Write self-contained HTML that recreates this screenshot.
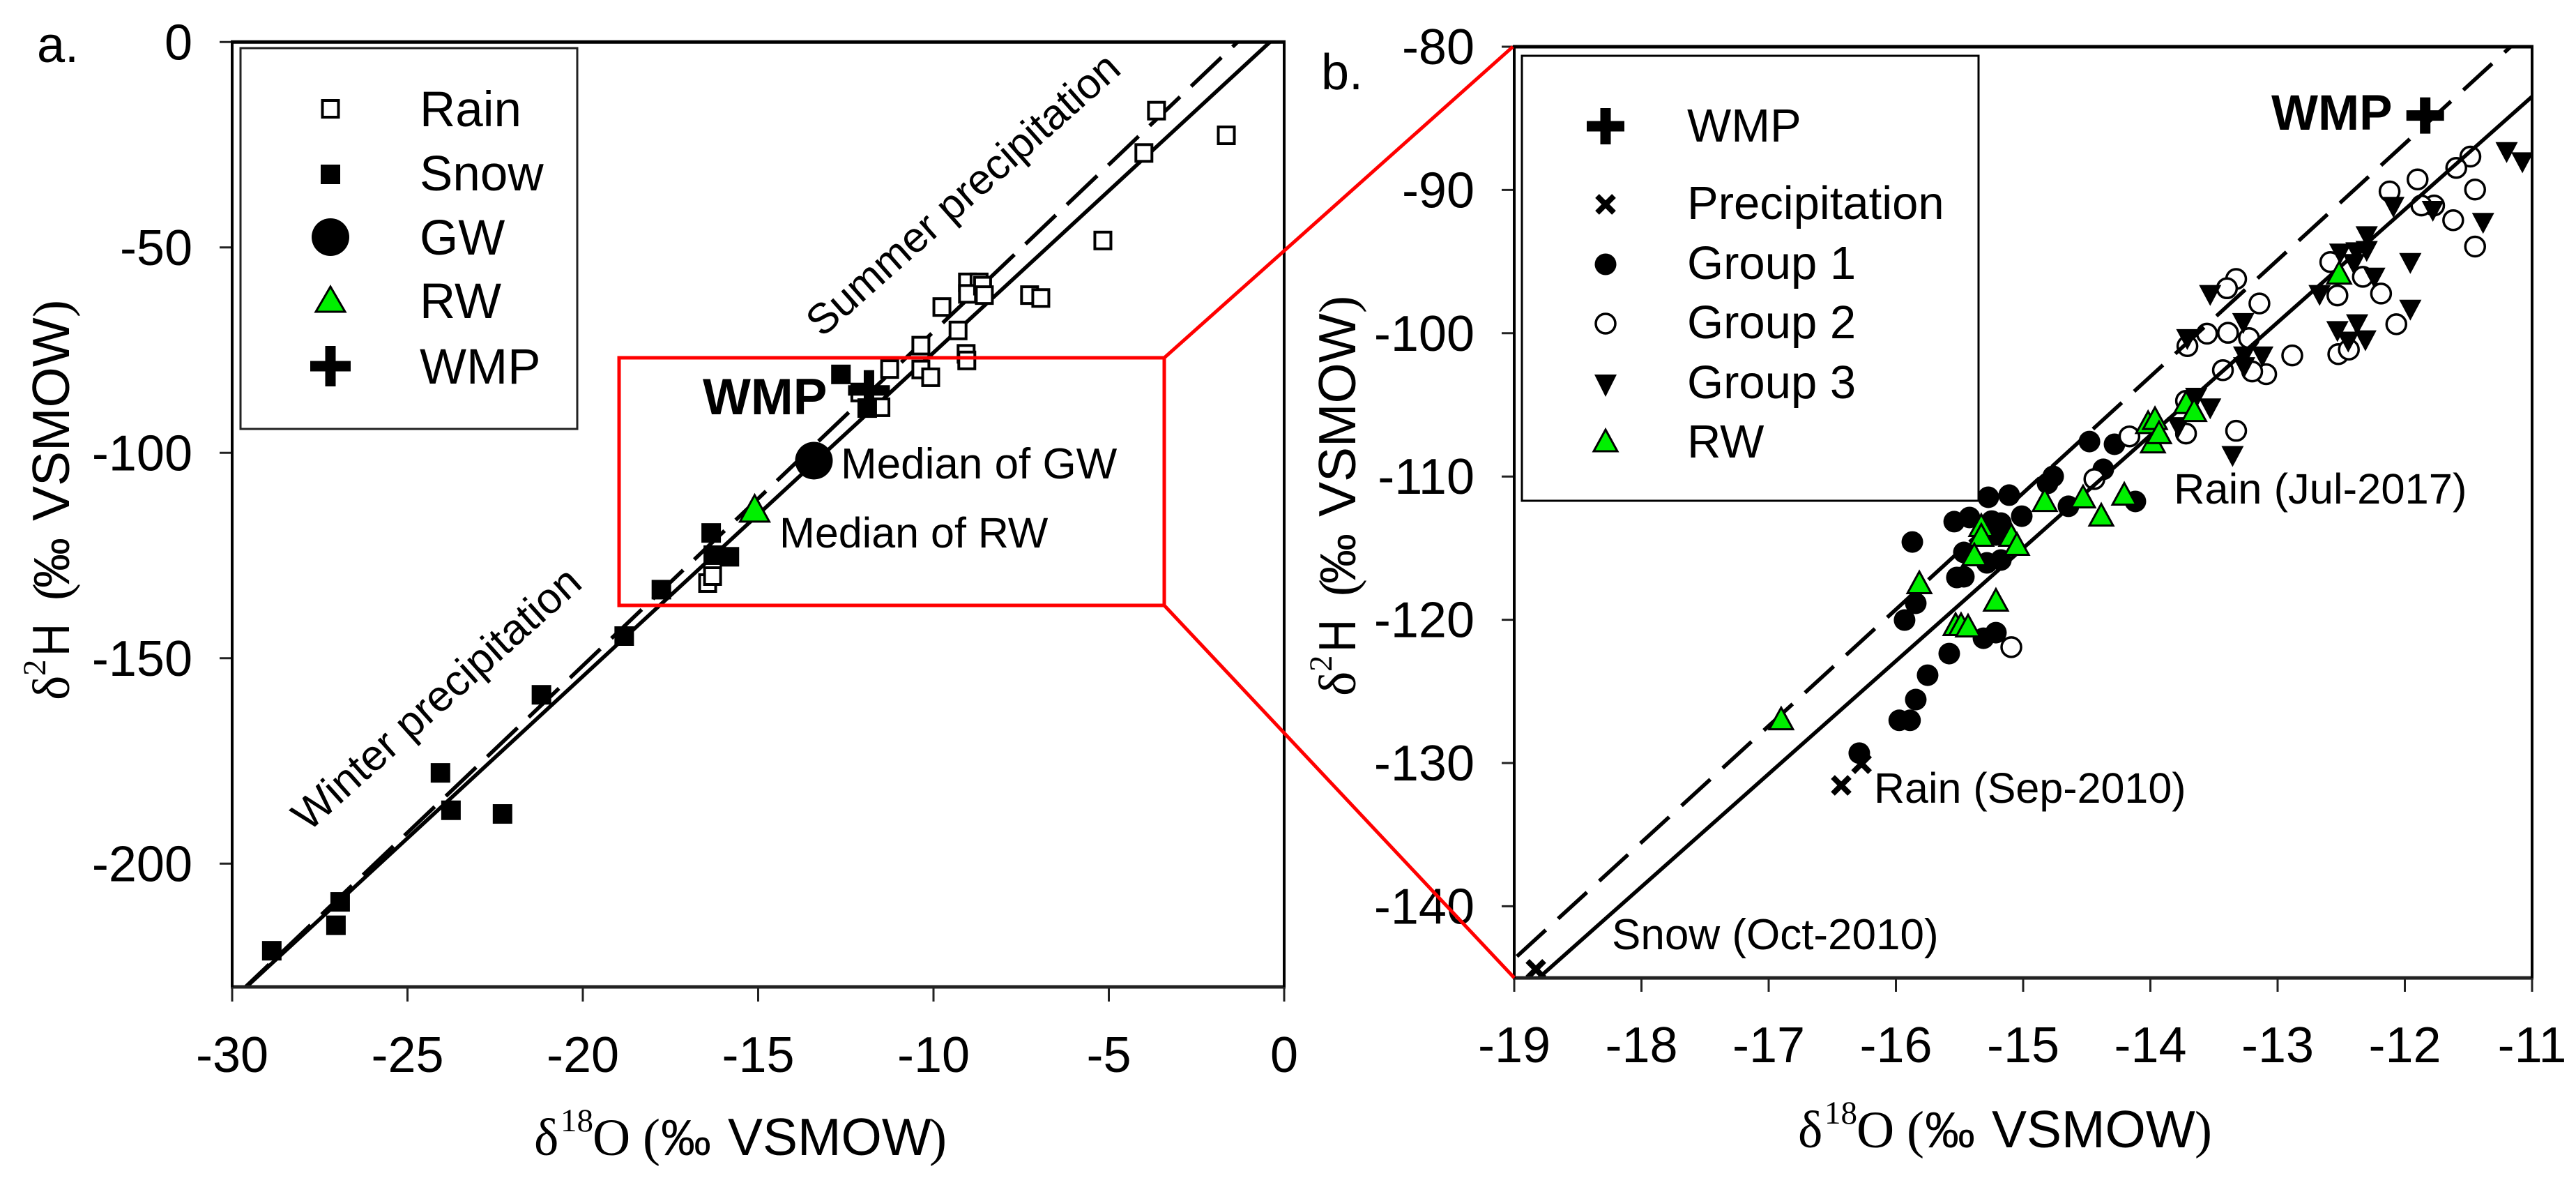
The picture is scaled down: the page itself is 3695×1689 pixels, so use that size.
<!DOCTYPE html>
<html lang="en">
<head>
<meta charset="utf-8">
<title>Isotope biplot</title>
<style>
html,body{margin:0;padding:0;background:#fff;}
svg{display:block;}
text{font-family:"Liberation Sans",sans-serif;fill:#000;}
.serif{font-family:"Liberation Serif",serif;}
</style>
</head>
<body>
<svg id="chart" xmlns="http://www.w3.org/2000/svg" width="3695" height="1689" viewBox="0 0 3695 1689">
<defs>
<clipPath id="clipA"><rect x="333" y="60" width="1509" height="1355"/></clipPath>
<clipPath id="clipB"><rect x="2172" y="67" width="1460" height="1335"/></clipPath>
</defs>
<rect x="0" y="0" width="3695" height="1689" fill="#fff"/>
<g id="panelA"></g>
<g id="panelB"></g>

<text x="53" y="89" font-size="72">a.</text>
<text x="1895" y="128" font-size="72">b.</text>

<text transform="translate(766,1656)" font-size="75"><tspan class="serif" x="0" y="0">δ</tspan><tspan class="serif" x="38" y="-34" font-size="47">18</tspan><tspan class="serif" x="84" y="0">O</tspan><tspan class="serif" x="156" y="0">(</tspan><tspan x="182" y="0" font-size="72">‰</tspan><tspan x="278" y="0">VSMOW</tspan><tspan class="serif" x="567" y="0">)</tspan></text>
<text transform="translate(99,1004) rotate(-90)" font-size="75"><tspan class="serif" x="0" y="0">δ</tspan><tspan class="serif" x="35" y="-34" font-size="47">2</tspan><tspan x="63" y="0" textLength="47" lengthAdjust="spacingAndGlyphs">H</tspan><tspan class="serif" x="143" y="0">(</tspan><tspan x="161" y="0" font-size="72">‰</tspan><tspan x="257" y="0">VSMOW</tspan><tspan class="serif" x="549" y="0">)</tspan></text>
<text transform="translate(2579,1645)" font-size="75"><tspan class="serif" x="0" y="0">δ</tspan><tspan class="serif" x="38" y="-34" font-size="47">18</tspan><tspan class="serif" x="84" y="0">O</tspan><tspan class="serif" x="156" y="0">(</tspan><tspan x="182" y="0" font-size="72">‰</tspan><tspan x="278" y="0">VSMOW</tspan><tspan class="serif" x="569" y="0">)</tspan></text>
<text transform="translate(1944,998) rotate(-90)" font-size="75"><tspan class="serif" x="0" y="0">δ</tspan><tspan class="serif" x="35" y="-34" font-size="47">2</tspan><tspan x="63" y="0" textLength="47" lengthAdjust="spacingAndGlyphs">H</tspan><tspan class="serif" x="143" y="0">(</tspan><tspan x="161" y="0" font-size="72">‰</tspan><tspan x="257" y="0">VSMOW</tspan><tspan class="serif" x="549" y="0">)</tspan></text>

<text transform="translate(1395,294) rotate(-41.5)" text-anchor="middle" font-size="61">Summer precipitation</text>
<text transform="translate(640,1017) rotate(-41.8)" text-anchor="middle" font-size="62">Winter precipitation</text>
<text x="1008" y="594" font-size="73" font-weight="bold">WMP</text>
<text x="1206" y="686" font-size="62">Median of GW</text>
<text x="1118" y="785" font-size="61">Median of RW</text>
<text x="3258" y="186" font-size="71" font-weight="bold">WMP</text>
<text x="3118" y="722" font-size="61.5">Rain (Jul-2017)</text>
<text x="2688" y="1151" font-size="61">Rain (Sep-2010)</text>
<text x="2312" y="1361" font-size="62">Snow (Oct-2010)</text>

<g>
<rect x="345" y="69" width="483" height="546" fill="#fff" stroke="#222" stroke-width="3"/>
<rect x="462.5" y="144" width="23" height="24" fill="#fff" stroke="#000" stroke-width="4"/>
<rect x="460" y="236" width="28" height="28" fill="#000"/>
<circle cx="474" cy="340" r="27" fill="#000"/>
<polygon points="474,411 495,447 453,447" fill="#00f000" stroke="#000" stroke-width="3"/>
<path d="M445 525H503M474 496V554" stroke="#000" stroke-width="15" fill="none"/>
<text x="602" y="181" font-size="71">Rain</text>
<text x="602" y="273" font-size="71">Snow</text>
<text x="602" y="365" font-size="71">GW</text>
<text x="602" y="456" font-size="71">RW</text>
<text x="602" y="550" font-size="71">WMP</text>
</g>

<g>
<rect x="2183" y="80" width="655" height="638" fill="#fff" stroke="#000" stroke-width="3"/>
<path d="M2276 181H2330M2303 155V207" stroke="#000" stroke-width="15" fill="none"/>
<path d="M2291 281L2315 305M2315 281L2291 305" stroke="#000" stroke-width="8" fill="none"/>
<circle cx="2303" cy="379" r="15.5" fill="#000"/>
<circle cx="2303" cy="464" r="14" fill="#fff" stroke="#000" stroke-width="3.5"/>
<polygon points="2287,537 2319,537 2303,569" fill="#000"/>
<polygon points="2303,616 2320,647 2286,647" fill="#00f000" stroke="#000" stroke-width="3"/>
<text x="2420" y="203" font-size="67">WMP</text>
<text x="2420" y="314" font-size="67">Precipitation</text>
<text x="2420" y="400" font-size="67">Group 1</text>
<text x="2420" y="485" font-size="67">Group 2</text>
<text x="2420" y="571" font-size="67">Group 3</text>
<text x="2420" y="656" font-size="67">RW</text>
</g>

<g fill="none" stroke="#ff0000" stroke-width="5">
<rect x="888" y="513" width="782" height="355"/>
<line x1="1670" y1="513" x2="2170" y2="67"/>
<line x1="1670" y1="868" x2="2172" y2="1402"/>
</g>
</svg>
<script>
// Panel A data
var xTicksA = [-30, -25, -20, -15, -10, -5, 0];
var yTicksA = [0, -50, -100, -150, -200];
var rainO18 = [-3.64,-4.0,-1.65,-5.17,-7.26,-6.94,-9.03,-8.7,-9.03,-8.6,-8.55,-9.76,-9.3,-10.36,-9.07,-9.05,-11.25,-10.36,-10.08,-11.5,-12.1,-16.44,-16.3];
var rainH2  = [-16.7,-27,-22.7,-48.3,-61.6,-62.3,-58.5,-58.5,-61.3,-59.3,-61.6,-64.5,-70.2,-73.9,-75.9,-77.5,-79.6,-79.7,-81.6,-88.9,-85.3,-131.7,-130];
var snowO18 = [-28.87,-26.92,-27.04,-24.06,-23.76,-22.29,-21.18,-18.82,-17.76,-16.34,-16.28,-15.82,-12.64,-11.89];
var snowH2  = [-221.2,-209.3,-215,-177.9,-187,-187.9,-158.9,-144.6,-133.3,-119.5,-124.9,-125.3,-80.9,-89.1];
var gwMedianO18 = [-13.41];
var gwMedianH2  = [-101.9];
var rwMedianO18 = [-15.1];
var rwMedianH2  = [-113.5];
var wmpO18 = [-11.84];
var wmpH2  = [-84.8];
var solidSlope = 7.88;
var solidIntercept = 3.2;
var dashedSlope = 8.13;
var dashedIntercept = 10.8;

// Panel B data
var xTicksB = [-19, -18, -17, -16, -15, -14, -13, -12, -11];
var yTicksB = [-80, -90, -100, -110, -120, -130, -140];
var precipO18 = [-16.43,-16.27,-18.83];
var precipH2  = [-131.56,-130.05,-144.4];
var group1O18 = [-16.288,-15.974,-15.889,-15.844,-15.751,-15.581,-15.312,-15.214,-15.932,-15.844,-15.521,-15.466,-15.285,-15.175,-15.871,-15.466,-15.542,-15.422,-15.274,-15.11,-15.011,-15.247,-15.175,-15.214,-14.764,-14.808,-14.644,-14.37,-14.118,-14.479,-14.282];
var group1H2  = [-129.31,-127.02,-127.02,-125.57,-123.87,-122.36,-121.29,-120.9,-120.02,-118.85,-117.05,-117.0,-116.03,-115.83,-114.57,-115.3,-113.15,-112.86,-111.45,-111.3,-112.77,-113.11,-113.25,-114.08,-109.99,-110.48,-112.08,-109.5,-111.74,-107.56,-107.75];
var group2O18 = [-11.485,-11.596,-11.9,-12.12,-11.448,-11.77,-11.87,-11.62,-11.448,-12.586,-12.33,-12.53,-12.187,-13.326,-13.398,-13.143,-12.067,-13.555,-13.39,-13.225,-13.709,-12.885,-12.523,-12.44,-13.43,-13.09,-13.2,-13.72,-13.326,-13.72,-14.165,-14.44,-15.093];
var group2H2  = [-87.67,-88.46,-89.26,-90.1,-89.97,-91.08,-91.08,-92.11,-93.95,-95.03,-96.06,-97.36,-97.23,-96.21,-96.86,-97.92,-99.37,-100.03,-99.97,-100.34,-100.9,-101.55,-101.46,-101.14,-102.58,-102.86,-102.67,-104.72,-106.81,-107,-107.2,-110.18,-121.91];
var group3O18 = [-11.2,-11.076,-12.09,-11.78,-11.385,-11.957,-12.3,-12.508,-12.38,-12.3,-12.4,-12.24,-12.67,-13.53,-11.957,-13.27,-12.375,-12.53,-13.71,-12.445,-12.31,-13.263,-13.12,-13.263,-13.64,-13.53,-13.78,-13.354];
var group3H2  = [-87.39,-88.1,-91.21,-91.49,-92.33,-95.13,-93.26,-94.47,-94.38,-94.29,-95.2,-96.15,-97.36,-97.36,-98.39,-99.32,-99.41,-99.88,-100.44,-100.62,-100.53,-101.65,-101.65,-102.4,-104.54,-105.28,-106.59,-108.6];
var rwO18 = [-16.902,-15.816,-15.214,-15.531,-15.488,-15.433,-15.329,-15.329,-15.384,-15.093,-15.049,-14.83,-14.529,-14.205,-14.386,-13.98,-14.018,-13.964,-13.932,-13.719,-13.656,-12.517];
var rwH2  = [-126.89,-117.39,-118.61,-120.31,-120.31,-120.41,-113.4,-114.08,-115.44,-114.08,-114.71,-111.65,-111.4,-111.21,-112.67,-107.56,-106.21,-105.93,-106.92,-104.82,-105.37,-95.78];

var NS = 'http://www.w3.org/2000/svg';

function xA(v) { return 1842 + v * 50.3; }
function yA(v) { return 60.3 - v * 5.89; }
function xB(v) { return 3632 + (v + 11) * 182.5; }
function yB(v) { return 67 - (v + 80) * 20.54; }

function make(tag, parent, attrs) {
  var el = document.createElementNS(NS, tag);
  for (var k in attrs) { el.setAttribute(k, attrs[k]); }
  parent.appendChild(el);
  return el;
}
function triUp(cx, cy, w, h) {
  return cx + ',' + (cy - h / 2) + ' ' + (cx + w / 2) + ',' + (cy + h / 2) + ' ' + (cx - w / 2) + ',' + (cy + h / 2);
}
function triDown(cx, cy, w, h) {
  return (cx - w / 2) + ',' + (cy - h / 2) + ' ' + (cx + w / 2) + ',' + (cy - h / 2) + ' ' + cx + ',' + (cy + h / 2);
}
function plusPath(cx, cy, w, h) {
  return 'M' + (cx - w / 2) + ' ' + cy + 'H' + (cx + w / 2) + 'M' + cx + ' ' + (cy - h / 2) + 'V' + (cy + h / 2);
}
function crossPath(cx, cy, r) {
  return 'M' + (cx - r) + ' ' + (cy - r) + 'L' + (cx + r) + ' ' + (cy + r) + 'M' + (cx + r) + ' ' + (cy - r) + 'L' + (cx - r) + ' ' + (cy + r);
}

function drawFrame(parent, X, Y, xt, yt, xMin, xMax, yMin, yMax, labelBaseline, labelRight, tickBottom) {
  var l = X(xMin), r = X(xMax), t = Y(yMax), b = Y(yMin);
  xt.forEach(function (v) {
    var tick = make('line', parent, { x1: X(v), x2: X(v), y1: b, y2: tickBottom, stroke: '#222', 'stroke-width': 3 });
    
    
    var lab = make('text', parent, { x: X(v), y: labelBaseline, 'text-anchor': 'middle', 'font-size': 72 });
    lab.textContent = String(v);
    
    
  });
  yt.forEach(function (v) {
    var tick = make('line', parent, { x1: l - 18, x2: l, y1: Y(v), y2: Y(v), stroke: '#222', 'stroke-width': 3 });
    
    
    var lab = make('text', parent, { x: labelRight, y: Y(v) + 25, 'text-anchor': 'end', 'font-size': 72 });
    lab.textContent = String(v);
    
    
  });
  var top = make('line', parent, { x1: l - 2, x2: r + 2, y1: t, y2: t, stroke: '#000', 'stroke-width': 5 });
  
  
  var bottom = make('line', parent, { x1: l - 2, x2: r + 2, y1: b, y2: b, stroke: '#222', 'stroke-width': 5 });
  
  
  var left = make('line', parent, { x1: l, x2: l, y1: t, y2: b, stroke: '#000', 'stroke-width': 4 });
  
  
  var right = make('line', parent, { x1: r, x2: r, y1: t, y2: b, stroke: '#000', 'stroke-width': 4 });
  
  
}

function drawLine(parent, X, Y, slope, intercept, yBottom, yTop, clip, dash, offset) {
  var x0 = (yTop - intercept) / slope, x1 = (yBottom - intercept) / slope;
  var attrs = { x1: X(x0), y1: Y(yTop), x2: X(x1), y2: Y(yBottom), stroke: '#000', 'stroke-width': 5.5, 'clip-path': 'url(#' + clip + ')' };
  if (dash) { attrs['stroke-dasharray'] = dash; attrs['stroke-dashoffset'] = offset; }
  return make('line', parent, attrs);
}

var panelA = document.getElementById('panelA');
var panelB = document.getElementById('panelB');

// ---------- Panel A ----------
var gA = panelA;
var solidA = drawLine(gA, xA, yA, solidSlope, solidIntercept, -230, 0, 'clipA');


var dashedA = drawLine(gA, xA, yA, dashedSlope, dashedIntercept, -230, 0, 'clipA', '60 22', 50);



rainO18.forEach(function (v, i) {
  var el = make('rect', gA, { x: xA(v) - 11.5, y: yA(rainH2[i]) - 12, width: 23, height: 24, fill: '#fff', stroke: '#000', 'stroke-width': 4 });
  
  
});
snowO18.forEach(function (v, i) {
  var el = make('rect', gA, { x: xA(v) - 14, y: yA(snowH2[i]) - 14, width: 28, height: 28, fill: '#000' });
  
  
});
gwMedianO18.forEach(function (v, i) {
  var el = make('circle', gA, { cx: xA(v), cy: yA(gwMedianH2[i]), r: 27, fill: '#000' });
  
  
});
rwMedianO18.forEach(function (v, i) {
  var el = make('polygon', gA, { points: triUp(xA(v), yA(rwMedianH2[i]), 42, 38), fill: '#00f000', stroke: '#000', 'stroke-width': 3 });
  
  
});
wmpO18.forEach(function (v, i) {
  var el = make('path', gA, { d: plusPath(xA(v), yA(wmpH2[i]), 60, 58), stroke: '#000', 'stroke-width': 15, fill: 'none' });
  
  
});
drawFrame(gA, xA, yA, xTicksA, yTicksA, -30, 0, -230, 0, 1537, 276, 1436);

// ---------- Panel B ----------
var gB = panelB;
group1O18.forEach(function (v, i) {
  var el = make('circle', gB, { cx: xB(v), cy: yB(group1H2[i]), r: 15.5, fill: '#000' });
  
  
});
group2O18.forEach(function (v, i) {
  var el = make('circle', gB, { cx: xB(v), cy: yB(group2H2[i]), r: 14, fill: '#fff', stroke: '#000', 'stroke-width': 3.5 });
  
  
});
var solidB = drawLine(gB, xB, yB, solidSlope, solidIntercept, -145, -80, 'clipB');


var dashedB = drawLine(gB, xB, yB, dashedSlope, dashedIntercept, -145, -80, 'clipB', '56 24', 44);


group3O18.forEach(function (v, i) {
  var el = make('polygon', gB, { points: triDown(xB(v), yB(group3H2[i]), 32, 30), fill: '#000' });
  
  
});
rwO18.forEach(function (v, i) {
  var el = make('polygon', gB, { points: triUp(xB(v), yB(rwH2[i]), 34, 31), fill: '#00f000', stroke: '#000', 'stroke-width': 3 });
  
  
});
precipO18.forEach(function (v, i) {
  var el = make('path', gB, { d: crossPath(xB(v), yB(precipH2[i]), 12), stroke: '#000', 'stroke-width': 8, fill: 'none' });
  
  
});
wmpO18.forEach(function (v, i) {
  var el = make('path', gB, { d: plusPath(xB(v), yB(wmpH2[i]), 54, 52), stroke: '#000', 'stroke-width': 15, fill: 'none' });
  
  
});
drawFrame(gB, xB, yB, xTicksB, yTicksB, -19, -11, -145, -80, 1523, 2115, 1422);
</script>
</body>
</html>
